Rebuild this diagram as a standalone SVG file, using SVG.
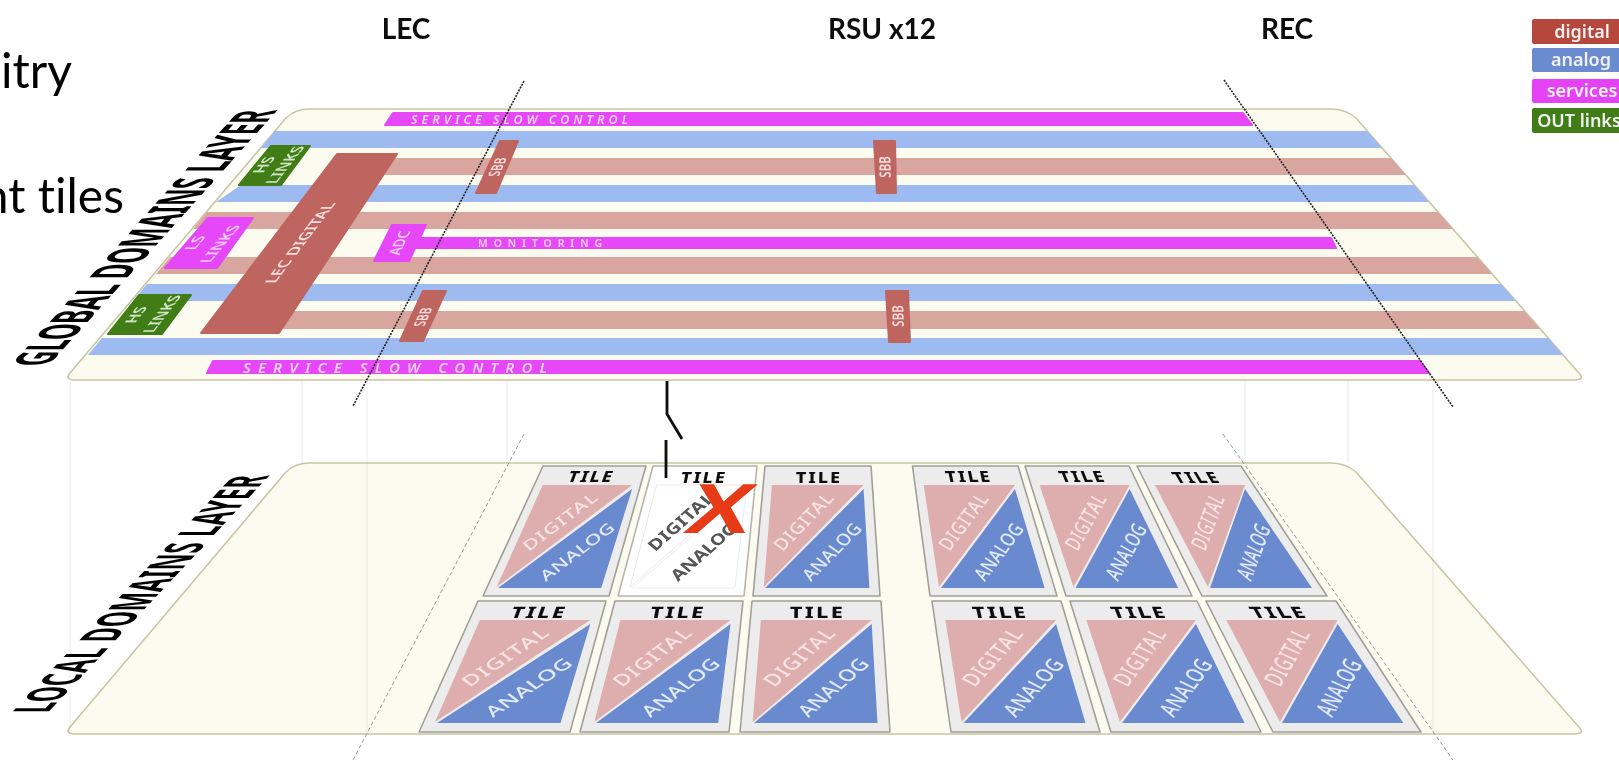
<svg xmlns="http://www.w3.org/2000/svg" width="1619" height="760" viewBox="0 0 1619 760">
<defs><filter id="soft" x="0" y="0" width="1619" height="760" filterUnits="userSpaceOnUse"><feGaussianBlur stdDeviation="0.5"/></filter></defs>
<style>
text{font-family:"Noto Sans","DejaVu Sans",sans-serif}
.plate{fill:#fbfbf0;stroke:#c9c5a5;stroke-width:1.6}
.ba{fill:#9dbbf0}.bd{fill:#d8a69f}
.sv{fill:#e646f8;stroke:#e646f8;stroke-width:2;stroke-linejoin:round}
.gr{fill:#3f7d14;stroke:#3f7d14;stroke-width:2;stroke-linejoin:round}
.dg{fill:#bf6560;stroke:#bf6560;stroke-width:2;stroke-linejoin:round}
.bl{fill:#f9e4f2;font-size:12px;text-anchor:middle;font-weight:600}
.gl{fill:#d5e6c8}.lb{fill:#f7cdfb}.ld{fill:#f6dcda}
.sl{fill:#fbd3fc;font-size:12.5px;font-style:italic;font-weight:600}
.hd{font-family:Lato,"Liberation Sans",sans-serif;font-weight:700;font-size:28px;text-anchor:middle;fill:#111}
.big{font-family:Lato,"Liberation Sans",sans-serif;font-size:48px;fill:#000;font-variant-ligatures:none}
.side{font-weight:700;font-size:26px;fill:#000}
.tile{fill:#ececec;stroke:#a0a098;stroke-width:1.6;stroke-linejoin:round}
.tp{fill:#deaeae}.tb{fill:#6b8ad0}
.tt{font-size:15.5px;font-weight:800;text-anchor:middle;fill:#111}
.td{font-size:16.5px;font-weight:500;text-anchor:middle;fill:#f8e4e4}
.ta{font-size:16.5px;font-weight:500;text-anchor:middle;fill:#e2eafa}
.off{fill:#fff;stroke:#b5b5b0}
.op{fill:#fff;stroke:#f3e4e6;stroke-width:1}.ob{fill:#fff;stroke:#e6edf8;stroke-width:1}
.og{font-size:16.5px;text-anchor:middle;fill:#555;font-weight:700}
.lg{font-weight:600;font-size:18px;fill:#f1f1f1;text-anchor:middle}
.guide{stroke:#000;stroke-opacity:.08;stroke-width:1;fill:none}
.dot{stroke:#222;stroke-width:1.6;stroke-dasharray:2 1.2;fill:none}
.dash{stroke:#999;stroke-width:1;stroke-dasharray:4 2.5;fill:none}
.sw{stroke:#111;stroke-width:2.8;fill:none}
</style>
<g filter="url(#soft)">
<text class="big" x="72" y="88" text-anchor="end">itry</text>
<text class="big" x="124" y="213" text-anchor="end">nt tiles</text>
<text class="hd" x="406" y="39">LEC</text>
<text class="hd" x="882" y="39">RSU x12</text>
<text class="hd" x="1287" y="39">REC</text>

<g id="legend">
<g id="legend-digital"><rect x="1532" y="19" width="90" height="25" rx="2" fill="#b5463e"/><text class="lg" x="1582" y="38">digital</text></g>
<g id="legend-analog"><rect x="1532" y="48" width="90" height="24" rx="2" fill="#6b8bd0"/><text class="lg" x="1581" y="66">analog</text></g>
<g id="legend-services"><rect x="1532" y="79" width="90" height="24" rx="2" fill="#e642f5"/><text class="lg" x="1582" y="97">services</text></g>
<g id="legend-out"><rect x="1532" y="108" width="90" height="25" rx="2" fill="#3f7d14"/><text class="lg" x="1579" y="127">OUT links</text></g>
</g>

<g id="global-layer">
<path class="plate" d="M310 109L1330 109Q1346 109 1356 118L1577 371Q1587 380 1574 380L76 380Q64 380 70 373L286 118Q295 109 310 109Z"/>
<polygon class="ba" points="275,131 1367,131 1382,148 261,148"/>
<polygon class="bd" points="360,158 1391,158 1406,175 345,175"/>
<polygon class="ba" points="241,185 1414,185 1429,202 216,202"/>
<polygon class="bd" points="207,212 1438,212 1453,229 193,229"/>
<polygon class="bd" points="170,257 1477,257 1492,274 156,274"/>
<polygon class="ba" points="147,284 1501,284 1516,301 133,301"/>
<polygon class="bd" points="270,311 1524,311 1540,329 255,329"/>
<polygon class="ba" points="102,338 1548,338 1563,355 88,355"/>
</g>
<g id="service-top"><polygon class="sv" points="393,113 1243,113 1252,125 385,125"/><text class="sl" x="411" y="123.5" textLength="217">SERVICE SLOW CONTROL</text></g>
<g id="service-bottom"><polygon class="sv" points="213,361 1420,361 1429,373 207,373"/><text class="sl" style="font-size:15px" x="243" y="372.5" textLength="304">SERVICE SLOW CONTROL</text></g>
<g id="monitoring"><polygon class="sv" points="420,238 1331,238 1336,248 415,248"/><text class="sl" style="font-style:normal;font-size:10.5px" x="478" y="247" textLength="124">MONITORING</text></g>
<g id="adc"><polygon class="sv" points="392,225 426,225 409,261 374,261"/><text class="bl lb" transform="matrix(.47 -1 1.3 0 405 243)">ADC</text></g>
<g id="lec-digital"><polygon class="dg" points="337,154 397,154 279,333 201,333"/><text class="bl ld" transform="matrix(.86 -1.14 1.3 0 305.5 243)">LEC DIGITAL</text></g>
<g id="hs-links-top"><polygon class="gr" points="271,146 310,146 281,185 239,185"/><text class="bl gl" transform="matrix(.85 -1.09 1.3 0 269.5 165)">HS</text><text class="bl gl" transform="matrix(.85 -1.09 1.3 0 290.5 165)">LINKS</text></g>
<g id="ls-links"><polygon class="sv" points="208,218 253,218 217,268 165,268"/><text class="bl lb" transform="matrix(.9 -1.09 1.3 0 200.5 243)">LS</text><text class="bl lb" transform="matrix(.9 -1.09 1.3 0 225.5 244)">LINKS</text></g>
<g id="hs-links-bottom"><polygon class="gr" points="139,295 191,295 162,334 108,334"/><text class="bl gl" transform="matrix(.83 -1.09 1.3 0 141.5 315)">HS</text><text class="bl gl" transform="matrix(.83 -1.09 1.3 0 167.5 314)">LINKS</text></g>
<g id="sbb-1"><polygon class="dg" points="500,141 518,141 496,193 476,193"/><text class="bl ld" transform="matrix(.375 -.85 1.3 0 503 167)">SBB</text></g>
<g id="sbb-2"><polygon class="dg" points="423,291 446,291 423,341 400,341"/><text class="bl ld" transform="matrix(.375 -.85 1.3 0 428.5 317)">SBB</text></g>
<g id="sbb-3"><polygon class="dg" points="874,141 895,141 896,193 877,193"/><text class="bl ld" transform="matrix(-.03 -.95 1.3 0 890.5 167)">SBB</text></g>
<g id="sbb-4"><polygon class="dg" points="886,291 908,291 910,342 889,342"/><text class="bl ld" transform="matrix(-.03 -.95 1.3 0 903.5 316)">SBB</text></g>
<text class="side" transform="matrix(.723 -.806 2.05 0 48 366)" textLength="318">GLOBAL DOMAINS LAYER</text>

<g id="local-layer">
<path class="plate" d="M310 463L1330 463Q1346 463 1356 472L1577 725Q1587 734 1574 734L76 734Q64 734 70 727L286 472Q295 463 310 463Z"/>
</g>
<text class="side" transform="matrix(.717 -.767 1.95 0 47.5 713)" textLength="310">LOCAL DOMAINS LAYER</text>

<g id="tile-1"><polygon class="tile" points="543,466 646,466 609,596 483,596"/><polygon class="tp" points="542.7,485 632.1,485 496.6,587"/><polygon class="tb" points="632.1,489 601.2,588 498,588"/>
<g transform="matrix(1.145 0 -.373 1 537.25 466)"><text class="tt" x="50" y="16.5" textLength="38">TILE</text><text class="td" transform="translate(38.3 56) rotate(-50.3)" y="5.5" textLength="69">DIGITAL</text><text class="ta" transform="translate(63 86) rotate(-50.3)" y="5.5" textLength="69">ANALOG</text></g></g>

<g id="tile-2"><polygon class="tile off" points="653,466 757,466 744,596 618,596"/><polygon class="op" points="656.5,485 746.5,485 630.1,587"/><polygon class="ob" points="746.5,489 734.8,588 632,588"/>
<g transform="matrix(1.15 0 -.185 1 647.5 466)"><text class="tt" x="50" y="16.5" textLength="38">TILE</text><text class="og" transform="translate(38.3 56) rotate(-50.3)" y="5.5" textLength="69">DIGITAL</text><text class="og" transform="translate(63 86) rotate(-50.3)" y="5.5" textLength="69">ANALOG</text></g>
<text transform="matrix(1.35 0 -.3 1 714 533)" text-anchor="middle" style="font-family:'Liberation Sans',sans-serif;font-weight:700;font-size:71px" fill="#e63b17">X</text></g>

<g id="tile-3"><polygon class="tile" points="765,466 871,466 880,596 753,596"/><polygon class="tp" points="771.9,485 863.6,485 763.8,587"/><polygon class="tb" points="863.6,489 869.4,588 765,588"/>
<g transform="matrix(1.165 0 -.012 1 759.75 466)"><text class="tt" x="50" y="16.5" textLength="38">TILE</text><text class="td" transform="translate(38.3 56) rotate(-50.3)" y="5.5" textLength="69">DIGITAL</text><text class="ta" transform="translate(63 86) rotate(-50.3)" y="5.5" textLength="69">ANALOG</text></g></g>

<g id="tile-4"><polygon class="tile" points="478,601 606,601 570,732 419,732"/><polygon class="tp" points="479.9,620 590.3,620 435,722"/><polygon class="tb" points="590.3,624 560.5,723 437,723"/>
<g transform="matrix(1.395 0 -.365 1.008 472.25 601)"><text class="tt" x="50" y="16.5" textLength="38">TILE</text><text class="td" transform="translate(38.3 56) rotate(-50.3)" y="5.5" textLength="69">DIGITAL</text><text class="ta" transform="translate(63 86) rotate(-50.3)" y="5.5" textLength="69">ANALOG</text></g></g>

<g id="tile-5"><polygon class="tile" points="615,601 743,601 729,732 580,732"/><polygon class="tp" points="620.4,620 730.5,620 594.3,722"/><polygon class="tb" points="730.5,624 718.2,723 596,723"/>
<g transform="matrix(1.385 0 -.188 1.008 609.75 601)"><text class="tt" x="50" y="16.5" textLength="38">TILE</text><text class="td" transform="translate(38.3 56) rotate(-50.3)" y="5.5" textLength="69">DIGITAL</text><text class="ta" transform="translate(63 86) rotate(-50.3)" y="5.5" textLength="69">ANALOG</text></g></g>

<g id="tile-6"><polygon class="tile" points="752,601 881,601 890,732 740,732"/><polygon class="tp" points="760.9,620 871.7,620 752.7,722"/><polygon class="tb" points="871.7,624 877.5,723 754,723"/>
<g transform="matrix(1.395 0 -.012 1.008 746.75 601)"><text class="tt" x="50" y="16.5" textLength="38">TILE</text><text class="td" transform="translate(38.3 56) rotate(-50.3)" y="5.5" textLength="69">DIGITAL</text><text class="ta" transform="translate(63 86) rotate(-50.3)" y="5.5" textLength="69">ANALOG</text></g></g>

<g id="tile-7"><polygon class="tile" points="912.5,466 1018,466 1057,596 930,596"/><polygon class="tp" points="923.7,485 1015,485 939,587"/><polygon class="tb" points="1015,489 1044.6,588 941,588"/>
<g transform="matrix(1.1625 0 .217 1 907.1 466)"><text class="tt" x="50" y="16.5" textLength="38">TILE</text><text class="td" transform="translate(38.3 56) rotate(-50.3)" y="5.5" textLength="69">DIGITAL</text><text class="ta" transform="translate(63 86) rotate(-50.3)" y="5.5" textLength="69">ANALOG</text></g></g>

<g id="tile-8"><polygon class="tile" points="1025,466 1129,466 1192,596 1066,596"/><polygon class="tp" points="1039.6,485 1129.6,485 1073.5,587"/><polygon class="tb" points="1129.6,489 1178.2,588 1075.5,588"/>
<g transform="matrix(1.15 0 .4 1 1019.5 466)"><text class="tt" x="50" y="16.5" textLength="38">TILE</text><text class="td" transform="translate(38.3 56) rotate(-50.3)" y="5.5" textLength="69">DIGITAL</text><text class="ta" transform="translate(63 86) rotate(-50.3)" y="5.5" textLength="69">ANALOG</text></g></g>

<g id="tile-9"><polygon class="tile" points="1137,466 1241,466 1327,596 1202,596"/><polygon class="tp" points="1155,485 1245,485 1208,587"/><polygon class="tb" points="1245,489 1312,588 1210,588"/>
<g transform="matrix(1.145 0 .581 1 1131.75 466)"><text class="tt" x="50" y="16.5" textLength="38">TILE</text><text class="td" transform="translate(38.3 56) rotate(-50.3)" y="5.5" textLength="69">DIGITAL</text><text class="ta" transform="translate(63 86) rotate(-50.3)" y="5.5" textLength="69">ANALOG</text></g></g>

<g id="tile-10"><polygon class="tile" points="932,601 1061,601 1100,732 951,732"/><polygon class="tp" points="945.4,620 1056.1,620 961.5,722"/><polygon class="tb" points="1056.1,624 1085.5,723 963.5,723"/>
<g transform="matrix(1.39 0 .223 1.008 927 601)"><text class="tt" x="50" y="16.5" textLength="38">TILE</text><text class="td" transform="translate(38.3 56) rotate(-50.3)" y="5.5" textLength="69">DIGITAL</text><text class="ta" transform="translate(63 86) rotate(-50.3)" y="5.5" textLength="69">ANALOG</text></g></g>

<g id="tile-11"><polygon class="tile" points="1070,601 1197,601 1261,732 1111,732"/><polygon class="tp" points="1086.3,620 1195.9,620 1120,722"/><polygon class="tb" points="1195.9,624 1244.6,723 1122,723"/>
<g transform="matrix(1.385 0 .404 1.008 1064.25 601)"><text class="tt" x="50" y="16.5" textLength="38">TILE</text><text class="td" transform="translate(38.3 56) rotate(-50.3)" y="5.5" textLength="69">DIGITAL</text><text class="ta" transform="translate(63 86) rotate(-50.3)" y="5.5" textLength="69">ANALOG</text></g></g>

<g id="tile-12"><polygon class="tile" points="1206,601 1336,601 1421,732 1273,732"/><polygon class="tp" points="1226.3,620 1337.7,620 1280,722"/><polygon class="tb" points="1337.7,624 1403.3,723 1282,723"/>
<g transform="matrix(1.39 0 .585 1.008 1201.5 601)"><text class="tt" x="50" y="16.5" textLength="38">TILE</text><text class="td" transform="translate(38.3 56) rotate(-50.3)" y="5.5" textLength="69">DIGITAL</text><text class="ta" transform="translate(63 86) rotate(-50.3)" y="5.5" textLength="69">ANALOG</text></g></g>

<g id="connectors">
<path class="guide" d="M70 381V733M367 381V733M1433 381V733M302 381V463M507 381V463M1245 381V463M1348 381V463"/>
<path class="dot" d="M524 81L353 406M1224 80L1453 407"/>
<path class="dash" d="M524 434L353 760M1223 434L1453 760"/>
<path class="sw" d="M667 381V414L682 439M666 440V478"/>
</g>
</g>
</svg>
